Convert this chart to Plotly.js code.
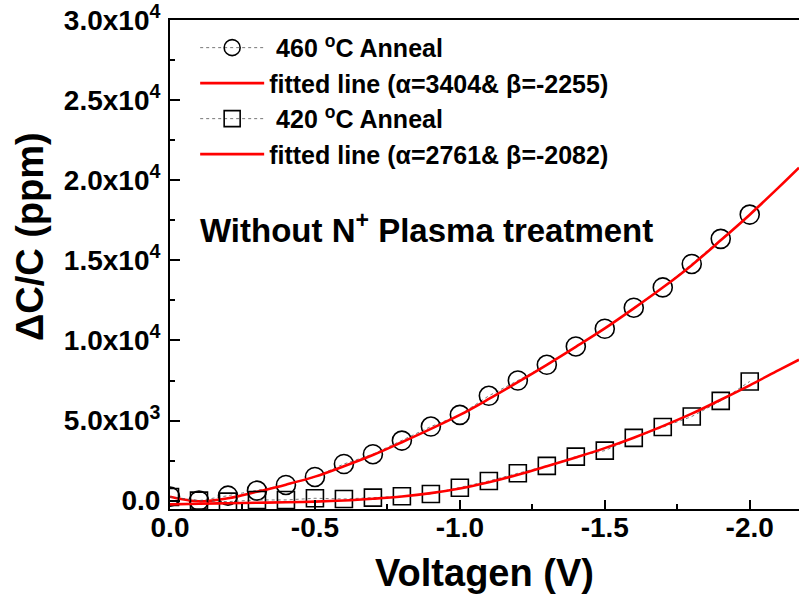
<!DOCTYPE html>
<html><head><meta charset="utf-8">
<script src="https://cdn.plot.ly/plotly-3.0.1.min.js"></script>
<style>html,body{margin:0;padding:0;background:#fff}#chart{width:799px;height:599px}</style>
</head><body><div id="chart"></div>
<script>
const voltage = [0,-0.1,-0.2,-0.3,-0.4,-0.5,-0.6,-0.7,-0.8,-0.9,-1.0,-1.1,-1.2,-1.3,-1.4,-1.5,-1.6,-1.7,-1.8,-1.9,-2.0];
const anneal460 = [250,0,312,625,980,1480,2290,2900,3750,4625,5355,6545,7500,8480,9625,10730,12045,13310,14775,16340,17855];
const anneal420 = [230,0,-60,45,45,150,105,190,275,420,810,1230,1710,2170,2750,3125,3920,4600,5250,6230,7440];

// Fitted curves
const fitVoltage = [0,-0.1,-0.2,-0.3,-0.4,-0.5,-0.6,-0.7,-0.8,-0.9,-1.0,-1.1,-1.2,-1.3,-1.4,-1.5,-1.6,-1.7,-1.8,-1.9,-2.0,-2.1,-2.17];
const fit460 = [250,-40,150,560,1000,1500,2150,2850,3650,4480,5350,6350,7400,8480,9600,10750,12000,13300,14700,16250,17850,19550,20780];
const fit420 = [-230,-190,-160,-130,-100,-60,10,120,260,470,760,1150,1620,2150,2700,3280,3930,4650,5430,6300,7200,8150,8800];

// Series labels
const seriesNames = ['\u00a0460 <sup>o</sup>C Anneal','fitted line (\u03b1=3404& \u03b2=-2255)','\u00a0420 <sup>o</sup>C Anneal','fitted line (\u03b1=2761& \u03b2=-2082)'];

// Ticks
const xTickVals = [0,-0.5,-1.0,-1.5,-2.0];
const xTickText = ['0.0','-0.5','-1.0','-1.5','-2.0'];
const xMinorVals = [-0.25,-0.75,-1.25,-1.75];
const yTickVals = [0,5000,10000,15000,20000,25000,30000];
const yTickText = ['0.0','5.0x10<sup>3</sup>','1.0x10<sup>4</sup>','1.5x10<sup>4</sup>','2.0x10<sup>4</sup>','2.5x10<sup>4</sup>','3.0x10<sup>4</sup>'];
const yMinorVals = [2500,7500,12500,17500,22500,27500];

const dataLine = {color:'#555', width:0.8, dash:'dot'};
const traces = [
  {x:voltage, y:anneal460, name:seriesNames[0], mode:'lines+markers', line:dataLine,
   marker:{symbol:'circle-open', size:19, color:'#000', line:{width:1.6, color:'#000'}}},
  {x:fitVoltage, y:fit460, name:seriesNames[1], mode:'lines', line:{color:'#ff0000', width:2.6, shape:'spline'}},
  {x:voltage, y:anneal420, name:seriesNames[2], mode:'lines+markers', line:dataLine,
   marker:{symbol:'square-open', size:17, color:'#000', line:{width:1.6, color:'#000'}}},
  {x:fitVoltage, y:fit420, name:seriesNames[3], mode:'lines', line:{color:'#ff0000', width:2.6, shape:'spline'}}
];

const layout = {
  width:799, height:599,
  margin:{l:170, r:0, t:20, b:90},
  paper_bgcolor:'#fff', plot_bgcolor:'#fff',
  font:{family:'Liberation Sans, Arial, sans-serif', color:'#000', size:28, weight:'bold'},
  showlegend:true,
  legend:{x:0.04, y:0.99, xanchor:'left', yanchor:'top', bgcolor:'rgba(0,0,0,0)',
          itemwidth:64, font:{size:25, weight:'bold'}, tracegroupgap:0},
  xaxis:{range:[0,-2.17], showgrid:false, zeroline:false, showline:true, linewidth:2, linecolor:'#000', mirror:true,
         ticks:'inside', ticklen:9, tickwidth:2, tickcolor:'#000',
         tickmode:'array', tickvals:xTickVals, ticktext:xTickText, ticklabelstandoff:-8,
         minor:{tickmode:'array', tickvals:xMinorVals, ticks:'inside', ticklen:5, tickwidth:2, tickcolor:'#000'},
         title:{text:'Voltagen (V)', font:{size:38, weight:'bold'}, standoff:18}},
  yaxis:{range:[-520,30000], showgrid:false, zeroline:false, showline:true, linewidth:2, linecolor:'#000', mirror:false,
         ticks:'inside', ticklen:10, tickwidth:2, tickcolor:'#000',
         tickmode:'array', tickvals:yTickVals, ticktext:yTickText, ticklabelstandoff:2,
         minor:{tickmode:'array', tickvals:yMinorVals, ticks:'inside', ticklen:5, tickwidth:2, tickcolor:'#000'}},
  annotations:[
    {xref:'paper', yref:'paper', x:0.0445, y:0.575, xanchor:'left', yanchor:'middle', showarrow:false,
     text:'Without N<sup>+</sup> Plasma treatment', font:{size:33, weight:'bold', color:'#000'}},
    {xref:'paper', yref:'paper', x:-0.2226, y:0.558, xanchor:'center', yanchor:'middle', showarrow:false, textangle:-90,
     text:'\u0394C/C (ppm)', font:{size:38, weight:'bold', color:'#000'}}
  ]
};

Plotly.newPlot('chart', traces, layout, {displayModeBar:false, staticPlot:true});
</script>
</body></html>
